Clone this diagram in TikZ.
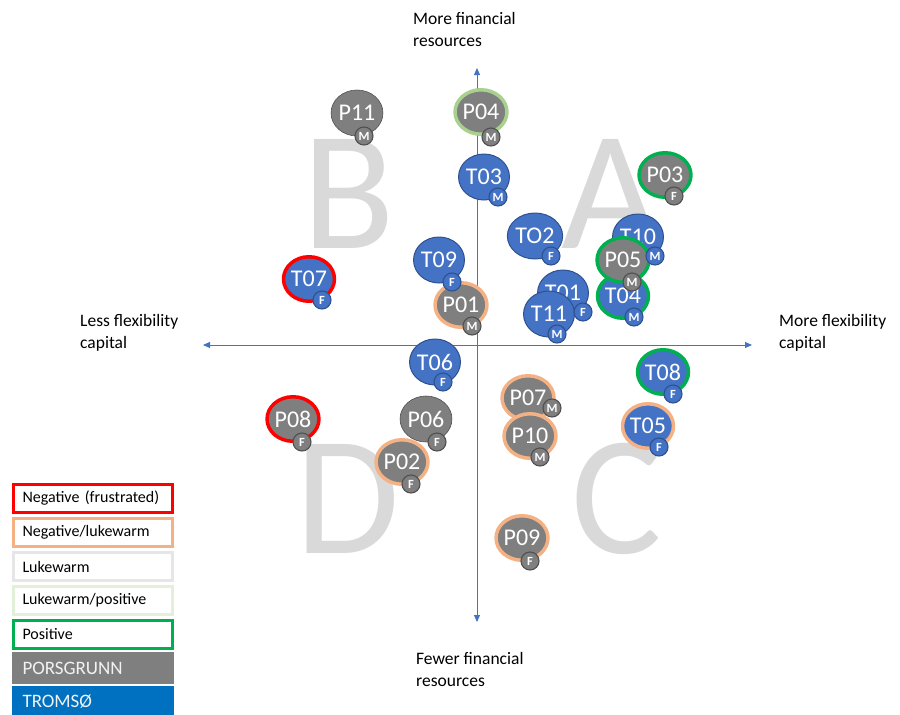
\documentclass[tikz,border=0pt]{standalone}
\usepackage{fontspec}
\setmainfont{Carlito}
\usetikzlibrary{shapes.geometric,arrows.meta}
\definecolor{pgray}{HTML}{7F7F7F}
\definecolor{pgrayd}{HTML}{505050}
\definecolor{tblue}{HTML}{4472C4}
\definecolor{tblued}{HTML}{2F528F}
\definecolor{negfr}{HTML}{FF0000}
\definecolor{neglw}{HTML}{F4B183}
\definecolor{lukew}{HTML}{E7E6E6}
\definecolor{lwpos}{HTML}{E2F0D9}
\definecolor{lwposring}{HTML}{A9D18E}
\definecolor{posit}{HTML}{00B050}
\definecolor{tromso}{HTML}{0070C0}
\definecolor{bigletter}{HTML}{D9D9D9}
\definecolor{axisblue}{HTML}{4472C4}
\begin{document}
\begin{tikzpicture}[x=1pt,y=-1pt,
  bubble/.style={ellipse, minimum width=50pt, minimum height=46pt, inner sep=0pt,
    text=white, font=\fontsize{24}{24}\selectfont},
  pb/.style={bubble, fill=pgray, draw=pgrayd, line width=0.6pt},
  tb/.style={bubble, fill=tblue, draw=tblued, line width=1pt},
  ring/.style={draw=#1, line width=3.5pt, minimum width=49pt, minimum height=44.5pt},
  badge/.style={circle, minimum size=18pt, inner sep=0pt, text=white,
    font=\bfseries\fontsize{12.5}{12.5}\selectfont, line width=1.1pt},
  pbadge/.style={badge, fill=pgray, draw=pgrayd},
  tbadge/.style={badge, fill=tblue, draw=tblued},
  axislabel/.style={anchor=base west, align=left, inner sep=0pt,
    font=\fontsize{17.5}{22}\selectfont},
  bigl/.style={anchor=base, inner sep=0pt, text=bigletter,
    font=\fontsize{170}{170}\selectfont},
  legbox/.style={draw=#1, line width=3pt, minimum width=159pt, minimum height=28pt,
    inner xsep=9pt, text width=141pt, align=left, font=\fontsize{16}{16}\selectfont},
  legfill/.style={fill=#1, minimum width=162pt, minimum height=32pt, inner xsep=10.5pt,
    text width=141pt, align=left, text=white!95!black, font=\fontsize{19}{19}\selectfont},
  axis/.style={draw=axisblue, line width=0.9pt,
    {Triangle[length=7pt,width=6pt]}-{Triangle[length=7pt,width=6pt]}}
]
\useasboundingbox (0,0) rectangle (900,715);

% big quadrant letters
\node[bigl] (LB) at (349,248) {B};
\node[bigl] (LA) at (611,248) {A};
\node[bigl] (LD) at (348,553) {D};
\node[bigl] (LC) at (617,553) {C};

% axes
\coordinate (xl) at (203,345);
\coordinate (xr) at (752,345);
\coordinate (yt) at (477,68);
\coordinate (yb) at (477,622);
\draw[axis] (xl) -- (xr);
\draw[axis] (yb) -- (yt);

% axis labels (anchored at the baseline of the last line)
\node[axislabel] (top) at (413,46) {More financial\\resources};
\node[axislabel] (bot) at (416,686) {Fewer financial\\resources};
\node[axislabel] (lft) at (80,348) {Less flexibility\\capital};
\node[axislabel] (rgt) at (779,348) {More flexibility\\capital};

% bubbles
\node[pb] (P11) at (357,113) {P11};
\node[pb, ring=lwposring] (P04) at (481,112) {P04};
\node[tb] (T03) at (484,177) {T03};
\node[pb, ring=posit] (P03) at (665,175) {P03};
\node[tb] (TO2) at (535,236) {TO2};
\node[tb] (T10) at (638,237) {T10};
\node[tb] (T09) at (439,260) {T09};
\node[tb, ring=negfr] (T07) at (309,279) {T07};
\node[tb] (T01) at (563,293) {T01};
\node[tb] (T11) at (549,314) {T11};
\node[tb, ring=posit] (T04) at (623,296) {T04};
\node[pb, ring=posit] (P05) at (623,260) {P05};
\node[pb, ring=neglw] (P01) at (461,305) {P01};
\node[tb] (T06) at (435,362) {T06};
\node[tb, ring=posit] (T08) at (663,372) {T08};
\node[pb, ring=neglw] (P07) at (528,398) {P07};
\node[pb, ring=neglw] (P10) at (530,436) {P10};
\node[pb, ring=negfr] (P08) at (293,419) {P08};
\node[pb] (P06) at (426,419) {P06};
\node[pb, ring=neglw] (P02) at (402,462) {P02};
\node[tb, ring=neglw] (T05) at (648,426) {T05};
\node[pb, ring=neglw] (P09) at (522,538) {P09};

% badges
\node[pbadge] (P11b) at (364,136) {M};
\node[pbadge] (P04b) at (491,137) {M};
\node[tbadge] (T03b) at (498,197) {M};
\node[pbadge] (P03b) at (674,196) {F};
\node[tbadge] (TO2b) at (551,256) {F};
\node[tbadge] (T10b) at (655,256) {M};
\node[tbadge] (T09b) at (452,282) {F};
\node[tbadge] (T07b) at (322,300) {F};
\node[tbadge] (T01b) at (583,312) {F};
\node[tbadge] (T11b) at (557,334) {M};
\node[tbadge] (T04b) at (634,317) {M};
\node[pbadge] (P05b) at (632,282) {M};
\node[pbadge] (P01b) at (472,326) {M};
\node[tbadge] (T06b) at (443,382) {F};
\node[tbadge] (T08b) at (673,394) {F};
\node[pbadge] (P07b) at (552,408) {M};
\node[pbadge] (P10b) at (540,457) {M};
\node[pbadge] (P08b) at (302,442) {F};
\node[pbadge] (P06b) at (437,442) {F};
\node[pbadge] (P02b) at (411,484) {F};
\node[tbadge] (T05b) at (659,447) {F};
\node[pbadge] (P09b) at (530,561) {F};

% legend
\node[legbox=negfr] (L1) at (93,498.5) {Negative (frustrated)};
\node[legbox=neglw] (L2) at (93,532.5) {Negative/lukewarm};
\node[legbox=lukew] (L3) at (93,566.5) {Lukewarm};
\node[legbox=lwpos] (L4) at (93,600.5) {Lukewarm/positive};
\node[legbox=posit] (L5) at (93,634.5) {Positive};
\node[legfill=pgray] (L6) at (93,668) {PORSGRUNN};
\node[legfill=tromso] (L7) at (93,702) {TROMSØ};
\end{tikzpicture}
\end{document}
